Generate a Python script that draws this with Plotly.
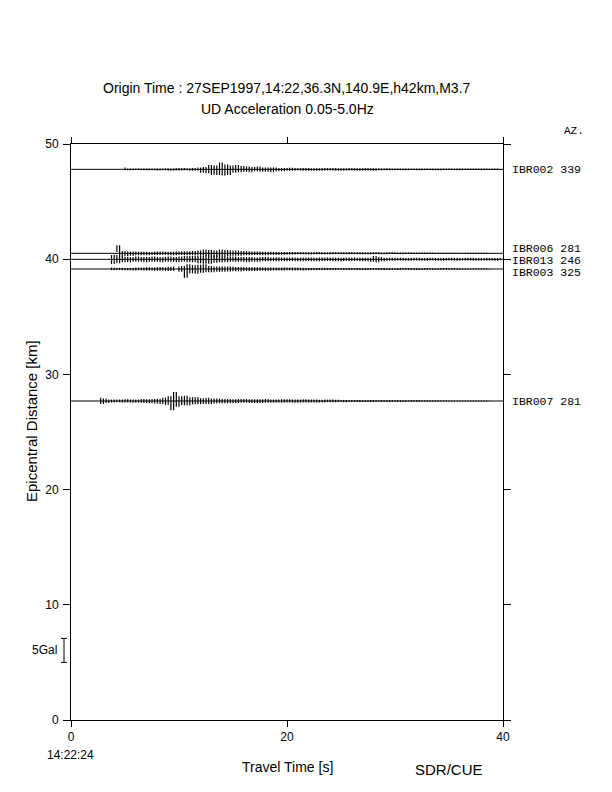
import plotly.graph_objects as go

# ---------------- data ----------------
stations = ["IBR002", "IBR006", "IBR013", "IBR003", "IBR007"]
azimuths = [339, 281, 246, 325, 281]
distances_km = [47.80, 40.51, 39.99, 39.15, 27.69]
start_times_s = [5.0, 4.25, 3.75, 3.75, 2.75]
sample_step_s = 0.25
gal_per_scale_bar = 5
km_per_gal = 0.417

# signed peak accelerations (Gal), every 0.25 s
acc_ibr002 = [
    .4, -.2, .2, -.2,  .2, -.15, .2, -.2,  .2, -.2, .15, -.2,  .2, -.25, .2, -.2,
    .25, -.3, .2, -.25,  .3, -.25, .3, -.2,  .25, -.3, .3, -.25,  .4, -.7, .5, -.8,
    .9, -1.1, .8, -1.2,  1.4, -1.3, 1.0, -1.2,  .8, -.7, .9, -.6,  .7, -.5, .6, -.6,
    .5, -.4, .6, -.5,  .4, -.5, .4, -.6,  .4, -.4, .3, -.4,  .3, -.3, .35, -.3,
    .3, -.25, .3, -.3,  .3, -.3, .25, -.3,  .25, -.3, .3, -.25,  .3, -.25, .3, -.3,
    .25, -.3, .25, -.25,  .3, -.25, .25, -.3,  .25, -.25, .3, -.25,  .25, -.3, .25, -.2,
    .2, -.2, .25, -.2,  .2, -.15, .2, -.2,  .15, -.2, .2, -.15,  .2, -.2, .15, -.2,
    .2, -.15, .2, -.2,  .15, -.2, .2, -.15,  .2, -.15, .15, -.2,  .15, -.2, .2, -.15,
    .2, -.15, .15, -.15,  .15, -.2, .15, -.15,  .15, -.15, .2, -.15,
]
acc_ibr006 = [
    .3, 1.7, -.6,
    .5, -.6, .4, -.5,  .4, -.4, .35, -.4,  .35, -.4, .3, -.35,  .4, -.35, .4, -.3,
    .35, -.4, .35, -.4,  .4, -.35, .45, -.4,  .45, -.4, .5, -.45,  .6, -.5, .8, -.6,
    .7, -.8, .6, -.7,  .8, -.6, .7, -.6,  .6, -.5, .6, -.5,  .5, -.4, .45, -.4,
    .4, -.35, .4, -.4,  .35, -.4, .35, -.3,  .3, -.35, .3, -.3,  .3, -.25, .3, -.25,
    .25, -.2, .25, -.2,  .2, -.25, .2, -.2,  .25, -.2, .2, -.2,  .2, -.2, .25, -.15,
    .2, -.2, .2, -.2,  .25, -.15, .2, -.2,  .2, -.2, .15, -.2,  .2, -.15, .2, -.2,
    .15, -.2, .2, -.15,  .2, -.15, .15, -.2,  .15, -.15, .2, -.15,  .15, -.15, .15, -.15,
    .15, -.15, .15, -.1,  .1, -.1, .1, -.1,  .1, -.1, .1, -.1,  .1, -.1, .1, -.1,
    .1, -.1, .1, -.1,  .1, -.1, .1, -.1,
]
acc_ibr013 = [
    .9,
    -1.0, .9, -.8, .7,  -.6, .5, -.6, .5,  -.5, .6, -.5, .5,  -.6, .5, -.5, .6,
    -.5, .5, -.6, .5,  -.5, .6, -.5, .5,  -.6, .6, -.5, .7,  -.6, .7, -.6, .7,
    -.8, .7, -.9, .8,  -.9, .8, -.7, .8,  -.6, .7, -.6, .6,  -.5, .6, -.5, .5,
    -.5, .5, -.6, .5,  -.5, .4, -.5, .5,  -.4, .5, -.4, .4,  -.4, .45, -.4, .4,
    -.4, .4, -.35, .4,  -.4, .35, -.4, .4,  -.35, .4, -.4, .35,  -.4, .4, -.35, .4,
    -.35, .4, -.4, .35,  -.4, .35, -.35, .4,  -.35, .4, -.35, .35,  -.4, .35, -.4, .35,
    -.5, .7, -.6, .5,  -.4, .35, -.3, .3,  -.3, .3, -.25, .3,  -.3, .25, -.3, .3,
    -.25, .3, -.3, .25,  -.3, .3, -.25, .3,  -.3, .25, -.3, .25,  -.25, .3, -.25, .3,
    -.3, .25, -.25, .3,  -.25, .3, -.3, .25,  -.3, .25, -.25, .3,  -.25, .25, -.3, .25,
]
acc_ibr003 = [
    .3,
    -.25, .25, -.2, .25,  -.25, .2, -.25, .2,  -.3, .3, -.25, .3,  -.3, .35, -.3, .3,
    -.35, .4, -.3, .35,  -.4, .45, -.4, .5,  .5, -.6, .6, -1.8,  1.0, -.9, .8, -1.0,
    .9, -.8, 1.0, -.7,  .6, -.7, .5, -.6,  .5, -.6, .5, -.5,  .5, -.45, .4, -.5,
    .4, -.4, .35, -.4,  .35, -.4, .35, -.3,  .3, -.35, .3, -.3,  .3, -.3, .3, -.3,
    .3, -.25, .3, -.3,  .3, -.3, .25, -.3,  .2, -.25, .2, -.2,  .2, -.2, .25, -.2,
    .2, -.2, .2, -.15,  .2, -.2, .15, -.2,  .2, -.15, .2, -.2,  .15, -.2, .2, -.2,
    .2, -.15, .2, -.2,  .2, -.2, .15, -.2,  .15, -.2, .2, -.15,  .2, -.15, .2, -.2,
    .15, -.2, .15, -.15,  .2, -.15, .15, -.2,  .15, -.15, .2, -.15,  .15, -.15, .15, -.15,
    .15, -.15, .1, -.15,  .1, -.1, .1, -.1,  .1, -.1, .1, -.1,
]
acc_ibr007 = [
    .7,
    -.6, .5, -.4, .3,  -.3, .3, -.25, .3,  -.3, .35, -.3, .3,  -.35, .3, -.35, .4,
    -.4, .35, -.45, .4,  -.5, .45, -.6, .7,  -.8, 1.0, -1.9, 1.9,  -1.2, 1.0, -.9, 1.1,
    -.9, .8, -.7, .8,  -.7, .6, -.6, .7,  -.6, .5, -.5, .5,  -.45, .4, -.45, .4,
    -.4, .35, -.4, .4,  -.35, .4, -.35, .35,  -.4, .35, -.4, .35,  -.35, .4, -.35, .3,
    -.35, .3, -.35, .35,  -.3, .35, -.3, .3,  -.35, .3, -.3, .35,  -.3, .3, -.3, .3,
    -.3, .25, -.3, .3,  -.25, .3, -.25, .25,  -.2, .2, -.25, .2,  -.2, .2, -.2, .2,
    -.2, .15, -.2, .2,  -.2, .2, -.15, .2,  -.2, .15, -.2, .2,  -.15, .2, -.2, .15,
    -.2, .15, -.15, .2,  -.15, .2, -.15, .15,  -.15, .15, -.15, .15,  -.15, .15, -.1, .15,
    -.1, .1, -.1, .1,  -.1, .1, -.1, .1,  -.1, .1, -.1, .1,  -.1, .1, -.1, .1,
]
accelerations = [acc_ibr002, acc_ibr006, acc_ibr013, acc_ibr003, acc_ibr007]

x_ticks = [0, 20, 40]
y_ticks = [0, 10, 20, 30, 40, 50]
origin_clock = "14:22:24"

# ---------------- figure ----------------
FONT = "Liberation Sans, Arial, sans-serif"
MONO = "Liberation Mono, Courier New, monospace"
fig = go.Figure()

for name, d, t0, acc in zip(stations, distances_km, start_times_s, accelerations):
    # baseline across whole record
    fig.add_trace(go.Scatter(x=[0, 40], y=[d, d], mode="lines",
                             line=dict(color="black", width=1), hoverinfo="skip",
                             showlegend=False))
    # each sample column drawn as the vertical span between successive peaks
    xs, ys = [], []
    for i, a in enumerate(acc):
        nxt = acc[i + 1] if i + 1 < len(acc) else 0.0
        t = t0 + i * sample_step_s
        xs += [t, t, None]
        ys += [d + a * km_per_gal, d + nxt * km_per_gal, None]
    fig.add_trace(go.Scatter(x=xs, y=ys, mode="lines", name=name,
                             line=dict(color="black", width=1.2), showlegend=False))


def note(text, x, y, size=14, xref="paper", yref="paper", family=FONT,
         xanchor="center", yanchor="middle", angle=0, **kw):
    fig.add_annotation(x=x, y=y, xref=xref, yref=yref, text=text, showarrow=False,
                       xanchor=xanchor, yanchor=yanchor, textangle=angle,
                       font=dict(family=family, size=size, color="black"), **kw)


# station labels on the right
label_offsets_km = [0.0, 0.42, -0.03, -0.3, 0.0]
for name, az, d, off in zip(stations, azimuths, distances_km, label_offsets_km):
    note(f"{name} {az}", 1.018, d + off, size=11.5, yref="y", family=MONO,
         xanchor="left", height=10, borderpad=0)

note("AZ.", 1.137, 1.023, size=11, family=MONO, xanchor="left")

# titles
note("Origin Time : 27SEP1997,14:22,36.3N,140.9E,h42km,M3.7", 0.5, 1.0972)
note("UD Acceleration 0.05-5.0Hz", 0.5, 1.0608)

# axis titles and footer text
note("Travel Time [s]", 0.5, -0.0816)
note("Epicentral Distance [km]", -0.0926, 0.519, size=15, angle=-90)
note("SDR/CUE", 0.876, -0.0868, size=15)
note(origin_clock, -0.0023, -0.061, size=12)

# amplitude scale bar (5 Gal)
bar_bottom = 5.0
bar_top = bar_bottom + gal_per_scale_bar * km_per_gal
bx = -0.0162
fig.add_shape(type="line", xref="paper", yref="y", x0=bx, x1=bx, y0=bar_bottom, y1=bar_top,
              line=dict(color="black", width=1))
for yy in (bar_bottom, bar_top):
    fig.add_shape(type="line", xref="paper", yref="y", x0=bx - 0.007, x1=bx + 0.007,
                  y0=yy, y1=yy, line=dict(color="black", width=1))
note(f"{gal_per_scale_bar}Gal", -0.0278, (bar_bottom + bar_top) / 2, size=12,
     yref="y", xanchor="right")

fig.update_layout(
    width=612, height=792,
    margin=dict(l=71, r=109, t=144, b=72),
    paper_bgcolor="white", plot_bgcolor="white",
    font=dict(family=FONT, size=12, color="black"),
)
fig.update_xaxes(range=[0, 40], tickvals=x_ticks, showgrid=False, zeroline=False,
                 showline=True, linecolor="black", linewidth=1, mirror="ticks",
                 ticks="outside", ticklen=6, tickcolor="black",
                 tickfont=dict(family=FONT, size=12, color="black"))
fig.update_yaxes(range=[0, 50], tickvals=y_ticks, showgrid=False, zeroline=False,
                 showline=True, linecolor="black", linewidth=1, mirror="ticks",
                 ticks="outside", ticklen=7, tickcolor="black", ticklabelstandoff=2,
                 tickfont=dict(family=FONT, size=12, color="black"))

fig.write_html("out.html", config={"displayModeBar": False},
               post_script="document.body.style.margin='0';")
